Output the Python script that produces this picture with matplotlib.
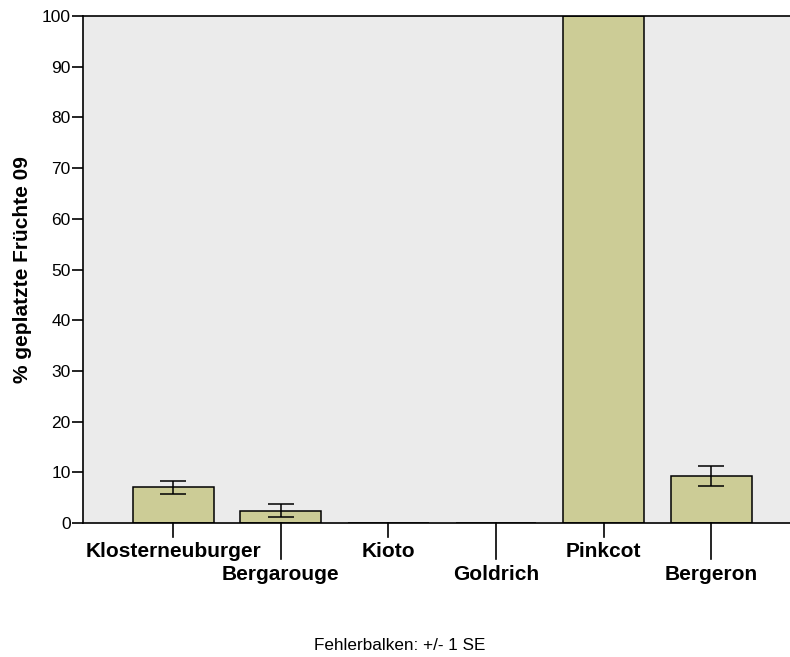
import matplotlib.pyplot as plt

# Werte
sorten = ['Klosterneuburger', 'Bergarouge', 'Kioto', 'Goldrich', 'Pinkcot', 'Bergeron']
prozent = [7.0, 2.45, 0.0, 0.0, 100.0, 9.25]
se = [1.3, 1.35, 0.0, 0.0, 0.0, 2.0]
yticks = [0, 10, 20, 30, 40, 50, 60, 70, 80, 90, 100]

plt.rcParams['font.family'] = ['Liberation Sans', 'DejaVu Sans']

fig = plt.figure(figsize=(7.9, 6.57), dpi=100)
ax = fig.add_axes([0.1051, 0.2040, 0.8949, 0.7716])
ax.set_facecolor('#ebebeb')

x = list(range(len(sorten)))
ax.bar(x, prozent, width=0.75, color='#cccc96', edgecolor='black', linewidth=1.1, zorder=2)
ax.errorbar(x[:2] + x[5:], prozent[:2] + prozent[5:], yerr=se[:2] + se[5:],
            fmt='none', ecolor='black', elinewidth=1.1, capsize=9.6, capthick=1.1, zorder=3)

ax.set_xlim(-0.837, 5.73)
ax.set_ylim(0, 100)
ax.set_yticks(yticks)
ax.tick_params(axis='y', length=8, width=1.2, labelsize=12.5, pad=1)

# versetzte Beschriftung wie in SPSS
ax.set_xticks(x)
ax.set_xticklabels([])
for i, name in enumerate(sorten):
    lang = i % 2 == 1
    ax.plot([i, i], [0, -0.071 if lang else -0.028], transform=ax.get_xaxis_transform(),
            color='black', linewidth=1.2, clip_on=False)
    ax.text(i, -0.101 if lang else -0.056, name, transform=ax.get_xaxis_transform(),
            ha='center', va='center', fontsize=15, fontweight='bold')
ax.tick_params(axis='x', length=0)

for s in ['left', 'top', 'bottom']:
    ax.spines[s].set_linewidth(1.2)
ax.spines['right'].set_visible(False)

ax.set_ylabel('% geplatzte Früchte 09', fontsize=15, fontweight='bold', labelpad=7)
fig.text(0.506, 0.017, 'Fehlerbalken: +/- 1 SE', ha='center', va='center', fontsize=12.3)

fig.savefig('out.png', dpi=100)
